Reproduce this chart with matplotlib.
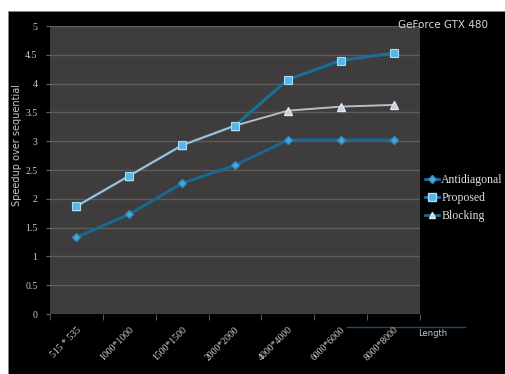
import numpy as np
import matplotlib
matplotlib.use("Agg")
import matplotlib.pyplot as plt
from matplotlib.patches import Rectangle
from matplotlib.lines import Line2D

# data
sizes = ["515 * 535", "1000*1000", "1500*1500", "2000*2000",
         "4000*4000", "6000*6000", "8000*8000"]
antidiagonal = [1.33, 1.73, 2.27, 2.58, 3.02, 3.02, 3.02]
proposed = [1.87, 2.40, 2.93, 3.27, 4.07, 4.40, 4.53]
blocking = [1.87, 2.40, 2.93, 3.27, 3.53, 3.60, 3.63]

fig = plt.figure(figsize=(5.06, 3.74), dpi=100, facecolor="white")
# black slide background
fig.patches.append(Rectangle((8/506, 0), 1, 363/374, transform=fig.transFigure,
                             facecolor="black", edgecolor="#888888", lw=0.6, zorder=-5))

ax = fig.add_axes([50/506, 1-314/374, 370/506, 288/374])
ax.set_zorder(2)
ax.set_facecolor("#3e3c3c")
x = np.arange(len(sizes))

ax.plot(x, antidiagonal, color="#1b6790", lw=2.2, marker="D", ms=4,
        mfc="#4aa8d8", mec="#2a88bb", zorder=3)
ax.plot(x, proposed, color="#1b6e9a", lw=2.2, zorder=2)
ax.plot(x, blocking, color="#b4bec6", lw=1.4, marker="^", ms=5.5,
        mfc="#c4d0da", mec="#e2e8ee", zorder=3)
ax.plot(x, proposed, ls="none", marker="s", ms=5.5,
        mfc="#56b6ea", mec="#a9dcf5", mew=0.8, zorder=4)

ax.set_xlim(-0.5, len(sizes) - 0.5)
ax.set_ylim(0, 5)
ax.set_yticks(np.arange(0, 5.01, 0.5))
ax.set_yticklabels(["0", "0.5", "1", "1.5", "2", "2.5", "3", "3.5", "4", "4.5", "5"],
                   fontsize=7, color="#cccccc", family="Liberation Serif")
ax.set_xticks(x)
ax.set_xticklabels(sizes, rotation=45, ha="right", va="top", rotation_mode="anchor",
                   fontsize=7, color="#d4d4d4", family="Liberation Serif")
ax.set_xticks(np.arange(-0.5, len(sizes)), minor=True)
ax.tick_params(axis="x", which="major", length=0, pad=8)
ax.tick_params(axis="x", which="minor", length=4, color="#666666")
ax.tick_params(axis="y", length=3, color="#666666", pad=6)
ax.grid(axis="y", color="#5e5c5c", lw=1)
ax.set_axisbelow(True)
for s in ax.spines.values():
    s.set_visible(False)

fig.text(17/506, 1-145/374, "Speedup over sequential", rotation=90, ha="center",
         va="center", fontsize=7, color="#c8c8c8")
fig.text(443/506, 1-25/374, "GeForce GTX 480", ha="center", va="center",
         fontsize=7.5, color="#d8d8d8")

# "Length" axis arrow
fig.add_artist(Line2D([347/506, 465/506], [1-327/374, 1-327/374],
                      transform=fig.transFigure, color="#1a4c6e", lw=1))
fig.text(418/506, 1-333/374, "Length", ha="left", va="center",
         fontsize=6, color="#c8c8c8")

# legend
handles = [
    Line2D([], [], color="#1b6790", lw=2, marker="D", ms=4, mfc="#4aa8d8", mec="#2a88bb"),
    Line2D([], [], color="#1b6e9a", lw=2, marker="s", ms=6, mfc="#56b6ea", mec="#a9dcf5"),
    Line2D([], [], color="#1b6790", lw=2, marker="^", ms=5, mfc="#c4d0da", mec="#e2e8ee"),
]
leg = fig.legend(handles, ["Antidiagonal", "Proposed", "Blocking"],
                 loc="center left", bbox_to_anchor=(414/506, 1-198/374),
                 frameon=False, handlelength=1.2, handletextpad=0.2,
                 labelspacing=0.5, prop={"family": "Liberation Serif", "size": 8.5})
for t in leg.get_texts():
    t.set_color("#e0e0e0")

fig.savefig("out.png", dpi=100, facecolor="white")
